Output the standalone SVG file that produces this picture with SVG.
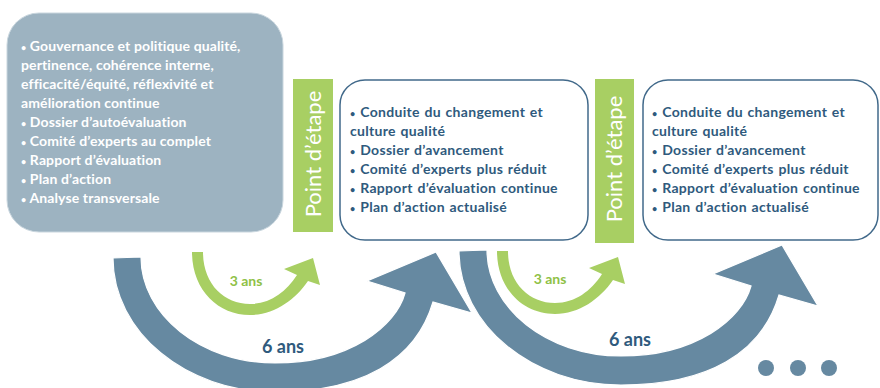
<svg xmlns="http://www.w3.org/2000/svg" width="880" height="388" viewBox="0 0 880 388">
<style>
.b1 { font-family: Lato, "Open Sans", "Liberation Sans", sans-serif; font-weight: bold; font-size: 14px; fill: #ffffff; letter-spacing: 0.12px; }
.b2 { font-family: Lato, "Open Sans", "Liberation Sans", sans-serif; font-weight: bold; font-size: 14px; fill: #2f5a7d; letter-spacing: 0.3px; word-spacing: 1px; }
.bu { font-size: 9px; }
.pe { font-family: Lato, "Open Sans", "Liberation Sans", sans-serif; font-size: 22px; fill: #ffffff; }
.bar { fill: #a8cf63; }
.wbox { fill: #ffffff; stroke: #41698a; stroke-width: 1.5; }
.big { fill: #6689a1; stroke: #ffffff; stroke-width: 1.2; }
.small { fill: #a8cf63; }
.t3 { font-family: Lato, "Open Sans", "Liberation Sans", sans-serif; font-weight: bold; font-size: 14px; fill: #8fc146; text-anchor: middle; }
.t6 { font-family: Lato, "Open Sans", "Liberation Sans", sans-serif; font-weight: bold; font-size: 18px; fill: #2f5a7d; text-anchor: middle; }
.dot { fill: #6689a1; }
</style>
<defs>
<path id="bigArrow" d="M113,258 C113,332 186,392 275,392 C362,392 416,360 433,302 L472,313 L436,252 L367,281 L405,293 C396,326 350,363 275,363 C201,363 141,315 141,257 Z"/>
<path id="smallArrow" d="M192,252 C192,290 218,315 250,315 C274,315 295,300 308,281 L320,285 L313,258 L284,269 L297,275 C286,292 270,304 250,304 C224,304 203,284 203,252 Z"/>
</defs>

<g id="connectors">
<use href="#bigArrow" class="big"/>
<use href="#bigArrow" class="big" transform="translate(346,-7)"/>
<use href="#smallArrow" class="small"/>
<use href="#smallArrow" class="small" transform="translate(305,-1)"/>
<text class="t3" x="246" y="286">3 ans</text>
<text class="t3" x="550" y="284">3 ans</text>
<text class="t6" x="283" y="353">6 ans</text>
<text class="t6" x="630" y="346">6 ans</text>
</g>

<g id="node-initial">
<rect x="7" y="13" width="276" height="219" rx="32" ry="32" fill="#9db3c1" stroke="#c9d6de" stroke-width="1"/>
<text class="b1" x="21" y="51"><tspan class="bu">•</tspan> Gouvernance  et politique  qualité,</text>
<text class="b1" x="21" y="70">pertinence, cohérence interne,</text>
<text class="b1" x="21" y="89">efficacité/équité, réflexivité et</text>
<text class="b1" x="21" y="108">amélioration  continue</text>
<text class="b1" x="21" y="127"><tspan class="bu">•</tspan> Dossier  d’autoévaluation</text>
<text class="b1" x="21" y="146"><tspan class="bu">•</tspan> Comité  d’experts au complet</text>
<text class="b1" x="21" y="165"><tspan class="bu">•</tspan> Rapport  d’évaluation</text>
<text class="b1" x="21" y="184"><tspan class="bu">•</tspan> Plan d’action</text>
<text class="b1" x="21" y="203"><tspan class="bu">•</tspan> Analyse transversale</text>
</g>

<g id="node-point1">
<rect class="bar" x="293" y="79" width="40" height="153"/>
<text class="pe" transform="translate(321,154) rotate(-90)" text-anchor="middle">Point d’étape</text>
</g>

<g id="node-suivi1">
<rect class="wbox" x="340" y="80" width="248" height="160" rx="25" ry="25"/>
<text class="b2" x="350" y="117"><tspan class="bu">•</tspan> Conduite du changement et</text>
<text class="b2" x="350" y="136">culture qualité</text>
<text class="b2" x="350" y="155"><tspan class="bu">•</tspan> Dossier  d’avancement</text>
<text class="b2" x="350" y="174"><tspan class="bu">•</tspan> Comité  d’experts plus réduit</text>
<text class="b2" x="350" y="193"><tspan class="bu">•</tspan> Rapport  d’évaluation continue</text>
<text class="b2" x="350" y="212"><tspan class="bu">•</tspan> Plan d’action  actualisé</text>
</g>

<g id="node-point2">
<rect class="bar" x="595" y="79" width="39" height="164"/>
<text class="pe" transform="translate(622,159) rotate(-90)" text-anchor="middle">Point d’étape</text>
</g>

<g id="node-suivi2">
<rect class="wbox" x="643" y="80" width="235" height="160" rx="25" ry="25"/>
<text class="b2" x="652" y="117"><tspan class="bu">•</tspan> Conduite du changement et</text>
<text class="b2" x="652" y="136">culture qualité</text>
<text class="b2" x="652" y="155"><tspan class="bu">•</tspan> Dossier  d’avancement</text>
<text class="b2" x="652" y="174"><tspan class="bu">•</tspan> Comité  d’experts plus réduit</text>
<text class="b2" x="652" y="193"><tspan class="bu">•</tspan> Rapport  d’évaluation continue</text>
<text class="b2" x="652" y="212"><tspan class="bu">•</tspan> Plan d’action  actualisé</text>
</g>

<g id="node-more">
<circle class="dot" cx="766" cy="368" r="8"/>
<circle class="dot" cx="798" cy="368" r="8"/>
<circle class="dot" cx="829" cy="368" r="8"/>
</g>
</svg>
